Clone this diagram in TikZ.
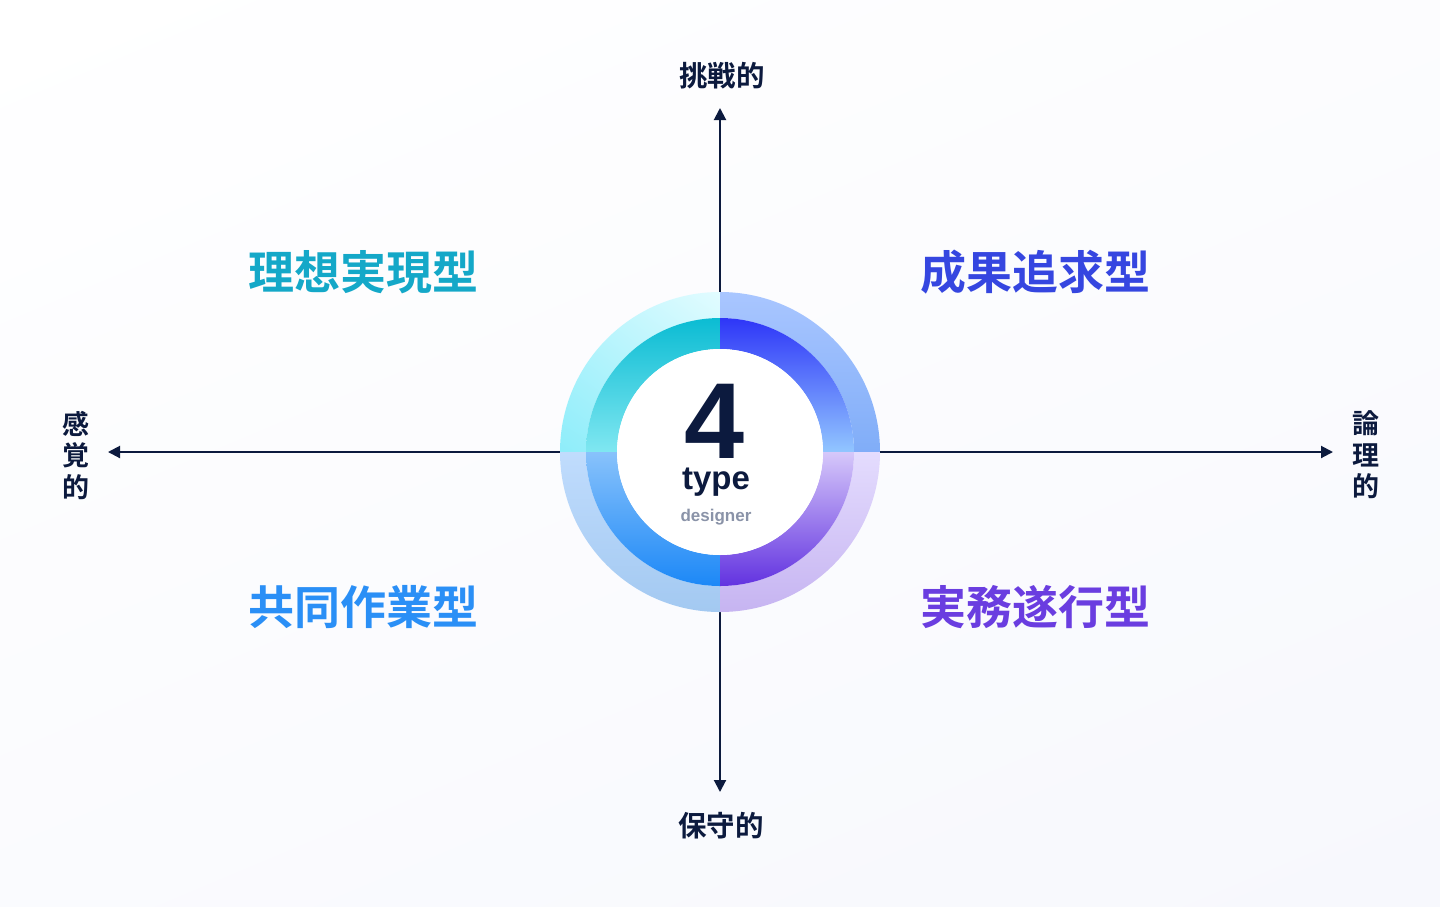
\documentclass[tikz,border=0pt]{standalone}
\usepackage{fontspec}
\setmainfont{Liberation Sans}
\newfontfamily\cjk{Noto Sans CJK JP}[BoldFont={Noto Sans CJK JP Bold}]
\usetikzlibrary{arrows.meta,shadings}
\definecolor{navy}{HTML}{0C1A3E}
\definecolor{bgA}{HTML}{FFFFFF}
\definecolor{bgB}{HTML}{F7F8FD}
\definecolor{cTL}{HTML}{14A8C8}
\definecolor{cTR}{HTML}{3546E0}
\definecolor{cBL}{HTML}{2A8FF6}
\definecolor{cBR}{HTML}{6A3DE0}
\definecolor{gray}{HTML}{8A93A8}
% outer ring
\definecolor{oTLa}{HTML}{B9F5FD}
\definecolor{oTLb}{HTML}{E2FCFF}
\definecolor{oTLc}{HTML}{8EEDFA}
\definecolor{oTLd}{HTML}{B0F2FB}
\definecolor{oTRa}{HTML}{A9C6FF}
\definecolor{oTRb}{HTML}{80ADF8}
\definecolor{oBLa}{HTML}{C0DCFD}
\definecolor{oBLb}{HTML}{A3C9F1}
\definecolor{oBRa}{HTML}{E4DCFE}
\definecolor{oBRb}{HTML}{C6B4F1}
% inner ring
\definecolor{iTLa}{HTML}{0BBCD3}
\definecolor{iTLb}{HTML}{80E7F1}
\definecolor{iTRa}{HTML}{2E36F8}
\definecolor{iTRb}{HTML}{92C6FF}
\definecolor{iBLa}{HTML}{88C2FB}
\definecolor{iBLb}{HTML}{1C88F7}
\definecolor{iBRa}{HTML}{D6C8FA}
\definecolor{iBRb}{HTML}{6232E0}
\newcommand{\sectorpath}[4]{(#1:#4) arc[start angle=#1,end angle=#2,radius=#4] -- (#2:#3) arc[start angle=#2,end angle=#1,radius=#3] -- cycle}
\tikzset{
  axis/.style={draw=navy, line width=2pt, -{Triangle[length=12pt,width=12pt]}},
  axlabel/.style={text=navy, font=\cjk\bfseries\fontsize{28.5}{32}\selectfont, inner sep=0pt},
  vlabel/.style={text=navy, font=\cjk\bfseries\fontsize{27}{31.5}\selectfont, inner sep=0pt, align=center},
  quad/.style={font=\cjk\bfseries\fontsize{46}{46}\selectfont, inner sep=0pt},
}
\begin{document}
\begin{tikzpicture}[x=1pt,y=1pt]
\shade[upper left=bgA, upper right=white!60!bgB, lower left=white!40!bgB, lower right=bgB] (0,0) rectangle (1440,-906);
\useasboundingbox (0,0) rectangle (1440,-906);

\coordinate (C) at (720,-452);
\node[circle, minimum size=320pt, inner sep=0pt] (ring) at (C) {};
\coordinate (tipN) at (720,-108);
\coordinate (tipS) at (720,-792);
\coordinate (tipW) at (108,-452);
\coordinate (tipE) at (1333,-452);

\draw[axis] (ring.north) -- (tipN);
\draw[axis] (ring.south) -- (tipS);
\draw[axis] (ring.west) -- (tipW);
\draw[axis] (ring.east) -- (tipE);

\begin{scope}[shift={(720,-452)}]
  \shade[upper left=oTLa, upper right=oTLb, lower left=oTLc, lower right=oTLd] \sectorpath{90}{180}{134}{160};
  \shade[top color=oTRa, bottom color=oTRb] \sectorpath{0}{90}{134}{160};
  \shade[top color=oBLa, bottom color=oBLb] \sectorpath{180}{270}{134}{160};
  \shade[top color=oBRa, bottom color=oBRb] \sectorpath{270}{360}{134}{160};
  \shade[top color=iTLa, bottom color=iTLb] \sectorpath{90}{180}{103}{134};
  \shade[top color=iTRa, bottom color=iTRb] \sectorpath{0}{90}{103}{134};
  \shade[top color=iBLa, bottom color=iBLb] \sectorpath{180}{270}{103}{134};
  \shade[top color=iBRa, bottom color=iBRb] \sectorpath{270}{360}{103}{134};
  \fill[white] (0,0) circle[radius=103];
\end{scope}

\node[anchor=base, text=navy, font=\bfseries\fontsize{108}{108}\selectfont, inner sep=0pt, text height=78pt, text depth=0pt] (four) at (715,-458) {4};
\node[anchor=base, text=navy, font=\bfseries\fontsize{33}{33}\selectfont, inner sep=0pt, text height=18pt, text depth=6pt] (type) at (716,-489) {type};
\node[anchor=base, text=gray, font=\bfseries\fontsize{17}{17}\selectfont, inner sep=0pt, text height=11pt, text depth=3pt] (des) at (716,-521) {designer};

\node[axlabel] (lN) at (722,-76) {挑戦的};
\node[axlabel] (lS) at (721,-826) {保守的};
\node[vlabel] (lW) at (76,-455) {感\\覚\\的};
\node[vlabel] (lE) at (1366,-455) {論\\理\\的};

\node[quad, text=cTL] (qTL) at (363,-272) {理想実現型};
\node[quad, text=cTR] (qTR) at (1035,-272) {成果追求型};
\node[quad, text=cBL] (qBL) at (363,-607) {共同作業型};
\node[quad, text=cBR] (qBR) at (1035,-607) {実務遂行型};
\end{tikzpicture}
\end{document}
